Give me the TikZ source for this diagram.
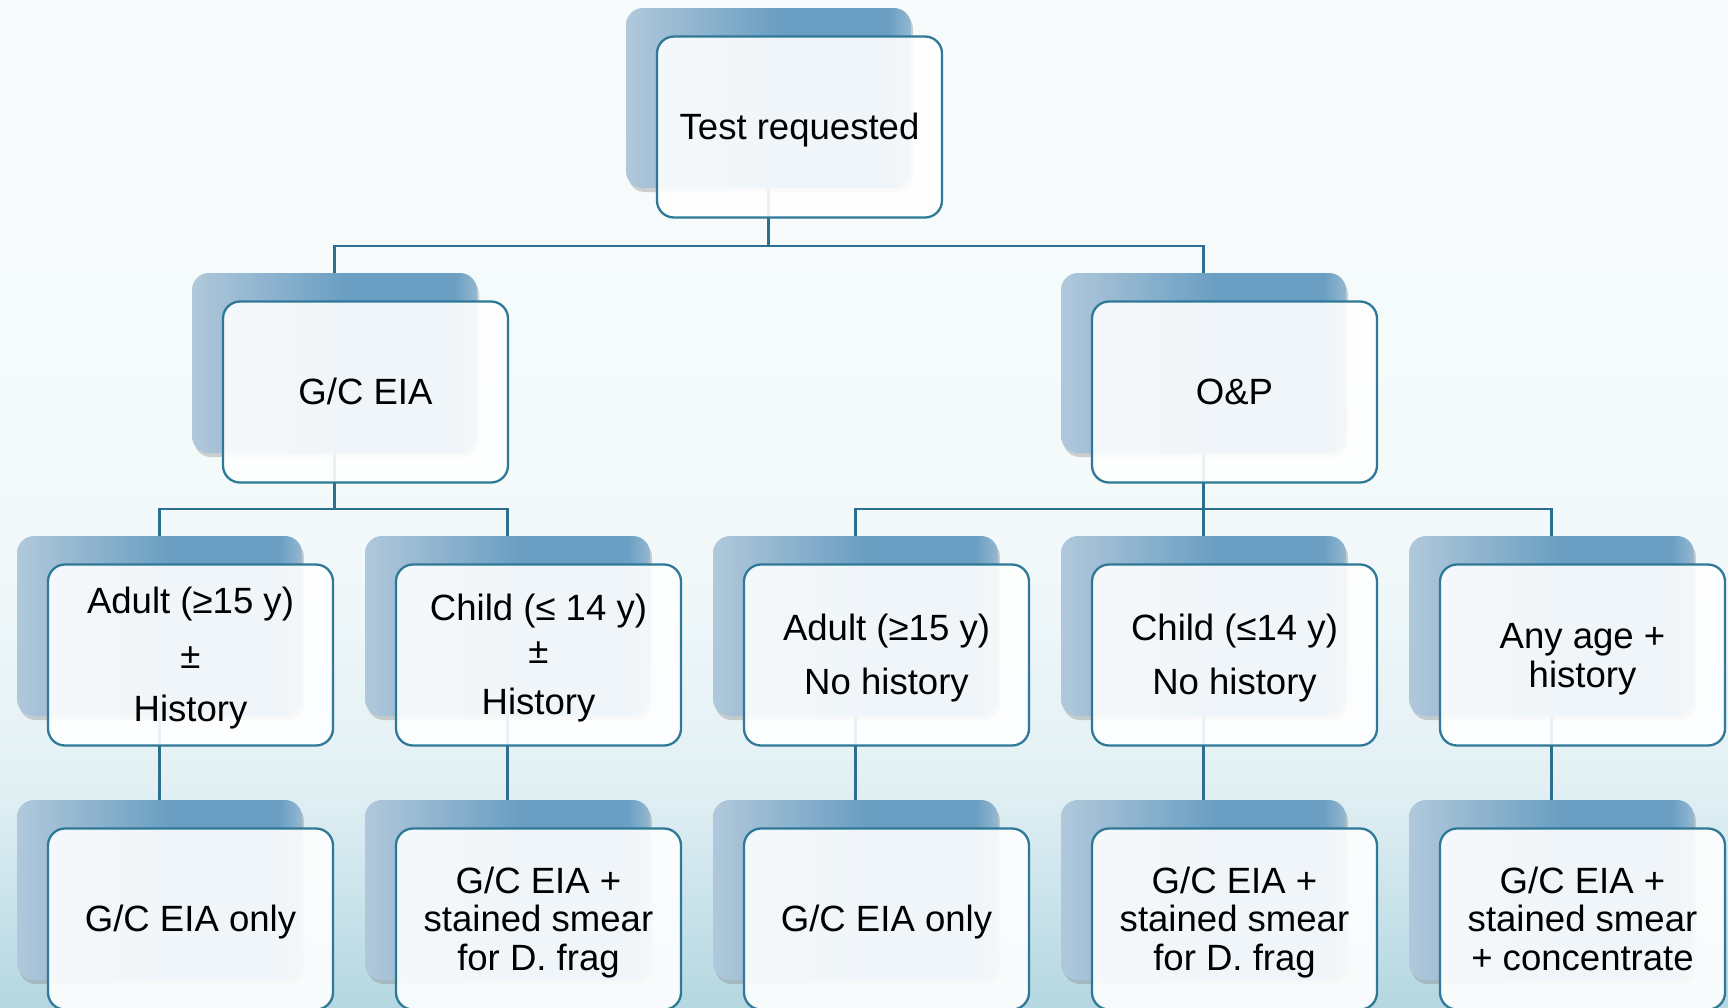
\documentclass[tikz,border=0pt]{standalone}
\usepackage{fontspec}
\setmainfont{Liberation Sans}
\usetikzlibrary{shadows}
\definecolor{bgtop}{HTML}{F8FBFC}
\definecolor{bgmid}{HTML}{F3F9FA}
\definecolor{bglow}{HTML}{E2F0F4}
\definecolor{bgbot}{HTML}{B4D7E1}
\definecolor{backL}{HTML}{B0C8DB}
\definecolor{backR}{HTML}{6A9EC2}
\definecolor{backE}{HTML}{94B8D1}
\definecolor{rim}{HTML}{2E7898}
\definecolor{wirecol}{HTML}{2D6F8F}
\pgfdeclarehorizontalshading{plate}{100bp}{color(0bp)=(backL); color(25bp)=(backL);
  color(52bp)=(backR); color(71bp)=(backR); color(75bp)=(backE); color(100bp)=(backE)}
\pgfdeclareverticalshading{paper}{100bp}{color(0bp)=(bgbot); color(25bp)=(bgbot);
  color(36bp)=(bglow); color(48bp)=(bgmid); color(75bp)=(bgtop); color(100bp)=(bgtop)}
\pgfdeclarelayer{bg}
\pgfdeclarelayer{wires}
\pgfsetlayers{bg,wires,main}
\begin{document}
\begin{tikzpicture}[x=1cm,y=1cm,
  backbox/.style={minimum width=5.7cm,minimum height=3.6cm,inner sep=0pt,
    rounded corners=0.34cm,shading=plate,
    drop shadow={shadow xshift=0.04cm,shadow yshift=-0.08cm,opacity=0.35}},
  frontbox/.style={minimum width=5.7cm,minimum height=3.62cm,inner sep=0pt,
    rounded corners=0.34cm,draw=rim,line width=1.3pt,fill=white,fill opacity=0.9,
    text opacity=1,align=center,font=\fontsize{20.8}{22}\selectfont},
  wire/.style={draw=wirecol,line width=1.3pt}]
  \useasboundingbox (0,0) rectangle (34.56,-20.14);
  \clip (0,0) rectangle (34.56,-20.14);
  \begin{pgfonlayer}{bg}
    \shade[shading=paper] (0,0) rectangle (34.56,-20.14);
  \end{pgfonlayer}

  % boxes: back plate + front card
  \foreach \n/\x/\y/\t in {
      test/15.37/-1.96/{Test requested},
      gc/6.69/-7.26/{G/C EIA},
      op/24.07/-7.26/{O\&P},
      adult1/3.19/-12.52/{Adult (≥15 y)\\[9pt]±\\[8.3pt]History},
      child1/10.15/-12.52/{Child (≤ 14 y)\\[2.5pt]±\\[7pt]History},
      adult2/17.11/-12.52/{Adult (≥15 y)\\[8.6pt]No history},
      child2/24.07/-12.52/{Child (≤14 y)\\[8.6pt]No history},
      anyage/31.03/-12.52/{Any age +\\history},
      only1/3.19/-17.80/{G/C EIA only},
      smear1/10.15/-17.80/{G/C EIA +\\stained smear\\for D. frag},
      only2/17.11/-17.80/{G/C EIA only},
      smear2/24.07/-17.80/{G/C EIA +\\stained smear\\for D. frag},
      conc/31.03/-17.80/{G/C EIA +\\stained smear\\+ concentrate}}{
    \node[backbox] (b\n) at (\x,\y) {};
    \node[frontbox] (\n) at ([xshift=0.62cm,yshift=-0.58cm]b\n.center)
      {\rule{0pt}{19pt}\t\rule[-4.5pt]{0pt}{4.5pt}};}

  \begin{pgfonlayer}{wires}
    \draw[wire] (btest) -- ++(0,-2.96) -| (bgc);
    \draw[wire] (btest) -- ++(0,-2.96) -| (bop);
    \foreach \a/\b in {gc/adult1,gc/child1,op/adult2,op/child2,op/anyage}{
      \draw[wire] (b\a) -- ++(0,-2.92) -| (b\b);}
    \foreach \a/\b in {adult1/only1,child1/smear1,adult2/only2,child2/smear2,anyage/conc}{
      \draw[wire] (b\a) -- (b\b);}
  \end{pgfonlayer}
\end{tikzpicture}
\end{document}
